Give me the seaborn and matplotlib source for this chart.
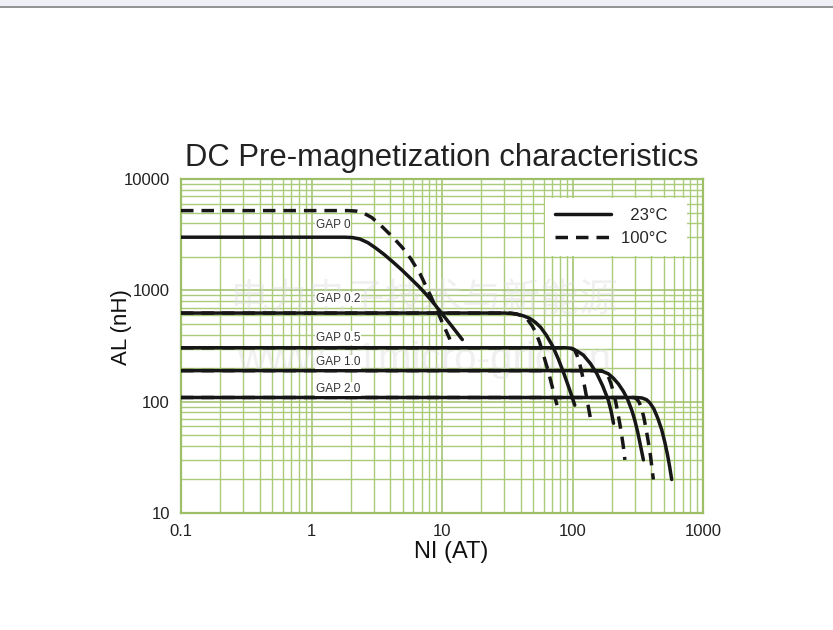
import numpy as np
import pandas as pd
import matplotlib.pyplot as plt
import seaborn as sns
from matplotlib.lines import Line2D
from matplotlib.ticker import NullFormatter

# DC bias curves (log-log)
gaps = ["GAP 0", "GAP 0.2", "GAP 0.5", "GAP 1.0", "GAP 2.0"]
temps = ["23°C", "100°C"]

gap0_23_x = [0.1, 1.8, 2.05, 2.35, 2.7, 3.1, 3.6, 4.2, 4.9, 5.7, 6.6, 7.5, 8.6, 9.9, 12, 14.3]
gap0_23_y = [3000, 3000, 2980, 2890, 2680, 2400, 2100, 1800, 1530, 1290, 1090, 930, 770, 625, 470, 361]
gap0_100_x = [0.1, 1.9, 2.2, 2.5, 2.9, 3.5, 4.2, 5.0, 5.8, 6.8, 8.3, 10, 11.5]
gap0_100_y = [5200, 5200, 5150, 4950, 4500, 3700, 3000, 2400, 1900, 1400, 860, 520, 362]

gap02_23_x = [0.1, 30, 34, 38, 42, 47, 52, 57, 63, 70, 78, 86, 95, 104]
gap02_23_y = [625, 625, 620, 608, 590, 560, 515, 465, 395, 320, 240, 178, 128, 93]
gap02_100_x = [0.1, 33, 37, 41, 45, 49, 52, 56, 60, 65, 70, 76]
gap02_100_y = [625, 625, 615, 590, 550, 480, 425, 340, 260, 190, 135, 93]

gap05_23_x = [0.1, 88, 95, 102, 110, 121, 137, 153, 170, 188, 198, 206]
gap05_23_y = [305, 305, 303, 295, 282, 262, 220, 180, 139, 103, 81, 64]
gap05_100_x = [0.1, 95, 101, 104, 108, 113, 118, 124, 131, 140]
gap05_100_y = [305, 305, 298, 290, 262, 225, 180, 135, 95, 62]

gap10_23_x = [0.1, 153, 170, 188, 206, 225, 245, 265, 285, 300, 315, 330, 349]
gap10_23_y = [190, 190, 187, 178, 162, 144, 124, 104, 83, 68, 54, 41.5, 30]
gap10_100_x = [0.1, 165, 175, 183, 190, 197, 205, 214, 224, 235, 244, 252]
gap10_100_y = [190, 190, 187, 178, 163, 145, 124, 100, 76, 55, 41, 30]

gap20_23_x = [0.1, 310, 340, 370, 393, 420, 450, 482, 510, 535, 555, 575]
gap20_23_y = [109, 109, 108, 104, 97, 86, 71, 56, 43, 33, 26, 20]
gap20_100_x = [0.1, 295, 310, 325, 339, 352, 365, 380, 395, 405, 416]
gap20_100_y = [109, 109, 106, 98, 86, 72, 58, 44, 33, 26, 20]

curves = [
    ("GAP 0", "23°C", gap0_23_x, gap0_23_y),
    ("GAP 0", "100°C", gap0_100_x, gap0_100_y),
    ("GAP 0.2", "23°C", gap02_23_x, gap02_23_y),
    ("GAP 0.2", "100°C", gap02_100_x, gap02_100_y),
    ("GAP 0.5", "23°C", gap05_23_x, gap05_23_y),
    ("GAP 0.5", "100°C", gap05_100_x, gap05_100_y),
    ("GAP 1.0", "23°C", gap10_23_x, gap10_23_y),
    ("GAP 1.0", "100°C", gap10_100_x, gap10_100_y),
    ("GAP 2.0", "23°C", gap20_23_x, gap20_23_y),
    ("GAP 2.0", "100°C", gap20_100_x, gap20_100_y),
]

frames = []
for gap, temp, xs, ys in curves:
    frames.append(pd.DataFrame({"NI": xs, "AL": ys, "gap": gap, "temp": temp,
                                "curve": gap + " " + temp}))
df = pd.concat(frames, ignore_index=True)

# label spots for the gap names
label_x = 1.08
label_y = {"GAP 0": 3860, "GAP 0.2": 836, "GAP 0.5": 372, "GAP 1.0": 227, "GAP 2.0": 130}

sns.set_style("white")
plt.rcParams["font.family"] = ["Liberation Sans", "DejaVu Sans"]

green = "#9dbf68"
ink = "#161616"
dash = (3.6, 2.3)

fig = plt.figure(figsize=(8.33, 6.30), dpi=100)
ax = fig.add_axes([0.2173, 0.1857, 0.6267, 0.5302])
ax.set_xscale("log")
ax.set_yscale("log")

sns.lineplot(data=df, x="NI", y="AL", units="curve", style="temp", style_order=temps,
             dashes={"23°C": "", "100°C": dash}, estimator=None, sort=False,
             color=ink, linewidth=2.5, legend=False, ax=ax, zorder=4)

ax.set_xlim(0.1, 1000)
ax.set_ylim(10, 10000)
ax.set_xticks([0.1, 1, 10, 100, 1000], ["0.1", "1", "10", "100", "1000"])
ax.set_yticks([10, 100, 1000, 10000], ["10", "100", "1000", "10000"])
ax.xaxis.set_minor_formatter(NullFormatter())
ax.yaxis.set_minor_formatter(NullFormatter())
ax.tick_params(which="both", length=0, labelsize=12, colors="#222222", pad=8)
ax.grid(which="major", color=green, linewidth=1.1)
ax.grid(which="minor", color="#aacb7a", linewidth=1.0)
ax.set_axisbelow(True)
for s in ax.spines.values():
    s.set_color(green)
    s.set_linewidth(1.6)

ax.set_title("DC Pre-magnetization characteristics", fontsize=22.3, color="#222222", pad=9)
ax.set_xlabel("NI (AT)", fontsize=17, color="#111111")
ax.set_ylabel("AL (nH)", fontsize=16, color="#111111")
ax.xaxis.set_label_coords(0.517, -0.085)
ax.yaxis.set_label_coords(-0.094, 0.557)

for g in gaps:
    ax.text(label_x, label_y[g], g, fontsize=8.5, color="#333333", va="center", ha="left",
            zorder=5, bbox=dict(facecolor="white", edgecolor="none", pad=0.6))

# faint watermark
ax.text(0.465, 0.635, "电力电子技术与新能源", transform=ax.transAxes, fontsize=28,
        family=["Noto Sans CJK SC", "DejaVu Sans"], color="#dadada", alpha=0.4,
        ha="center", va="center", zorder=3)
ax.text(0.465, 0.457, "www.21micro-grid.cn", transform=ax.transAxes, fontsize=29,
        color="#dadada", alpha=0.4, ha="center", va="center", zorder=3)

handles = [Line2D([], [], color=ink, lw=2.5),
           Line2D([], [], color=ink, lw=2.5, dashes=dash)]
leg = ax.legend(handles, ["  23°C  ", "100°C  "], loc="upper right",
                bbox_to_anchor=(0.969, 0.943), borderaxespad=0, fontsize=12,
                handlelength=3.35, handletextpad=0.6, labelspacing=0.45,
                frameon=True, fancybox=False, framealpha=1, borderpad=0.6)
leg.get_frame().set_edgecolor("none")
leg.get_frame().set_facecolor("white")
leg.set_zorder(6)

# top strip of the page
fig.patches.append(plt.Rectangle((0, 1 - 6 / 630), 1, 6 / 630, transform=fig.transFigure,
                                 facecolor="#eef0f5", edgecolor="none"))
fig.lines.append(Line2D([0, 1], [1 - 6.5 / 630] * 2, transform=fig.transFigure,
                        color="#808080", lw=1.2))

fig.savefig("out.png", dpi=100)
